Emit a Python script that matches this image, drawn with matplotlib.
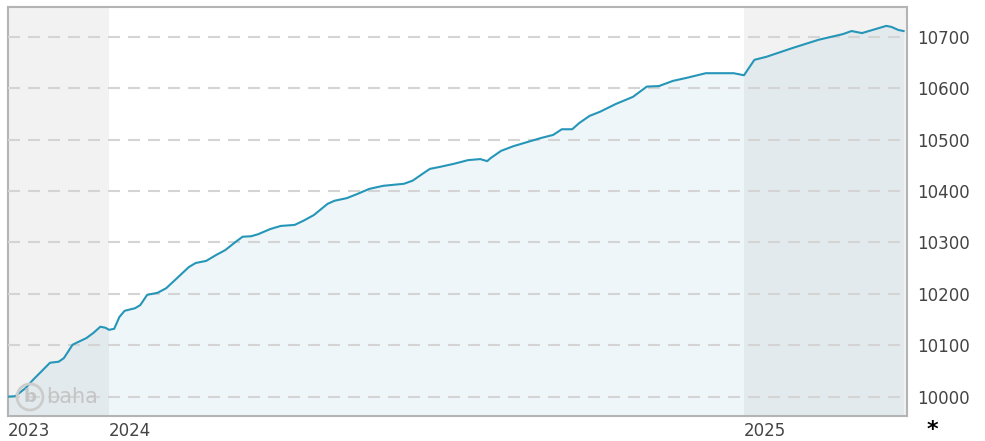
import matplotlib
matplotlib.use("Agg")
import matplotlib.pyplot as plt
import matplotlib.patches as mpatches
from matplotlib.transforms import IdentityTransform
import pandas as pd

# values
dates = ["2023-11-04", "2023-11-08", "2023-11-11", "2023-11-14", "2023-11-18",
         "2023-11-28", "2023-12-03", "2023-12-06", "2023-12-11", "2023-12-14",
         "2023-12-19", "2023-12-23", "2023-12-27", "2023-12-30", "2024-01-01",
         "2024-01-04", "2024-01-07", "2024-01-10", "2024-01-16", "2024-01-19",
         "2024-01-23", "2024-01-29", "2024-02-03", "2024-02-10", "2024-02-16",
         "2024-02-20", "2024-02-26", "2024-03-03", "2024-03-08", "2024-03-14",
         "2024-03-18", "2024-03-23", "2024-03-27", "2024-04-03", "2024-04-09",
         "2024-04-17", "2024-04-22", "2024-04-28", "2024-05-06", "2024-05-10",
         "2024-05-17", "2024-05-23", "2024-05-30", "2024-06-07", "2024-06-19",
         "2024-06-24", "2024-06-30", "2024-07-04", "2024-07-10", "2024-07-18",
         "2024-07-26", "2024-08-02", "2024-08-06", "2024-08-08", "2024-08-14",
         "2024-08-21", "2024-08-29", "2024-09-06", "2024-09-13", "2024-09-18",
         "2024-09-24", "2024-09-28", "2024-10-04", "2024-10-10", "2024-10-19",
         "2024-10-29", "2024-11-06", "2024-11-13", "2024-11-21", "2024-11-29",
         "2024-12-10", "2024-12-26", "2025-01-01", "2025-01-07", "2025-01-14",
         "2025-01-29", "2025-02-13", "2025-02-27", "2025-03-04", "2025-03-10",
         "2025-03-18", "2025-03-24", "2025-03-27", "2025-03-31", "2025-04-03"]
values = [10000, 10001, 10009, 10017, 10032, 10066, 10068, 10075, 10101, 10106,
          10114, 10124, 10136, 10134, 10130, 10132, 10155, 10167, 10172, 10178,
          10198, 10202, 10211, 10233, 10252, 10260, 10264, 10276, 10285, 10301,
          10311, 10312, 10316, 10326, 10332, 10334, 10342, 10353, 10375, 10381,
          10386, 10394, 10404, 10410, 10414, 10420, 10434, 10443, 10447, 10453,
          10460, 10462, 10458, 10464, 10478, 10487, 10495, 10503, 10509, 10520,
          10520, 10532, 10546, 10554, 10569, 10583, 10603, 10604, 10614, 10620,
          10629, 10629, 10625, 10655, 10661, 10678, 10694, 10705, 10711, 10707,
          10715, 10721, 10719, 10713, 10711]
y_ticks = [10000, 10100, 10200, 10300, 10400, 10500, 10600, 10700]
year_starts = ["2024-01-01", "2025-01-01"]
year_labels = ["2023", "2024", "2025"]

x = pd.to_datetime(dates)
x_left = pd.Timestamp("2023-11-03 12:00")
x_right = pd.Timestamp("2025-04-04 16:00")
ys = pd.to_datetime(year_starts)

W, H = 985, 441
fig = plt.figure(figsize=(W / 100, H / 100), dpi=100)
ax = fig.add_axes([7.5 / W, 25.5 / H, 899 / W, 409 / H])

# shaded years (2023 and 2025)
ax.axvspan(x_left, ys[0], color="#f2f2f2", lw=0, zorder=0)
ax.axvspan(ys[1], x_right, color="#f2f2f2", lw=0, zorder=0)

ax.fill_between(x, values, 9900, color="#298cb3", alpha=0.07, lw=0, zorder=1)
ax.plot(x, values, color="#2596b8", lw=1.5, zorder=3)

ax.set_xlim(x_left, x_right)
ax.set_ylim(9963.4, 10758.7)

ax.yaxis.tick_right()
ax.set_yticks(y_ticks)
ax.set_yticklabels([str(v) for v in y_ticks])
ax.tick_params(axis="y", length=0, pad=8, labelsize=12, labelcolor="#444444")
ax.grid(axis="y", color="#d4d4d4", lw=1.5, ls=(0, (5.76, 3.84)), zorder=2)
ax.set_axisbelow(False)

ax.set_xticks([x_left, ys[0], ys[1]])
ax.set_xticklabels(year_labels, ha="left")
ax.tick_params(axis="x", length=0, pad=5, labelsize=12, labelcolor="#444444")

for s in ax.spines.values():
    s.set_color("#b4b4b4")
    s.set_linewidth(1.5)

# baha watermark (pixel coords from bottom-left)
cx, cy = 30, H - 397
circ = mpatches.Circle((cx, cy), 13, transform=IdentityTransform(),
                       fill=False, ec="#cccccc", lw=2, zorder=4)
fig.patches.append(circ)
fig.text(cx / W, cy / H, "b", color="#c4c4c4", fontsize=13,
         fontweight="bold", ha="center", va="center")
fig.text(46 / W, cy / H, "baha", color="#c4c4c4", fontsize=15,
         ha="left", va="center")

fig.text(932 / W, 1 / H, "*", color="black", fontsize=16,
         fontweight="bold", ha="center", va="bottom")

fig.savefig("out.png", dpi=100)
